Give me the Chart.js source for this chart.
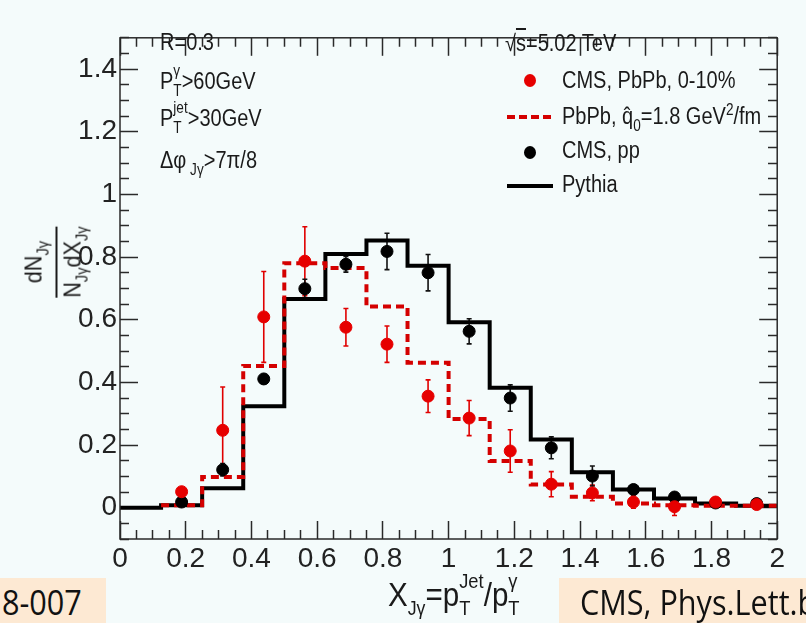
<!DOCTYPE html>
<html>
<head>
<meta charset="utf-8">
<script src="https://cdn.jsdelivr.net/npm/chart.js@4"></script>
<style>
body { margin: 0; background: #f4fbfb; }
#wrap { position: relative; width: 806px; height: 623px; overflow: hidden; background: #f4fbfb;
  font-family: 'Liberation Sans Narrow', 'Liberation Sans', sans-serif; color: #1a1a1a; }
#wrap canvas { position: absolute; left: 0; top: 0; }
.t { position: absolute; white-space: nowrap; line-height: 1; font-size: 23px; transform: scaleX(0.87); transform-origin: left; }
.st { display: inline-block; font-size: 0.68em; line-height: 0; vertical-align: baseline; }
.st > span { display: block; position: relative; }
.st > .u { top: -0.85em; }
.st > .d { top: 0.45em; }
.sb { font-size: 0.68em; position: relative; top: 0.45em; }
.box { position: absolute; background: #fde9d3; font-family: 'Open Sans', sans-serif; font-size: 34px; color: #111; }
.box span { position: absolute; top: 1px; transform: scaleX(0.9); transform-origin: left; white-space: nowrap; }
.dot { position: absolute; width: 12px; height: 13px; border-radius: 50%; }
</style>
</head>
<body>
<div id="wrap">
  <canvas id="chart" width="806" height="623"></canvas>

  <div class="t" style="left:160px; top:31px;">R=0.3</div>
  <div class="t" style="left:160px; top:70px;">P<span class="st"><span class="u">&gamma;</span><span class="d">T</span></span>&gt;60GeV</div>
  <div class="t" style="left:160px; top:107px;">P<span class="st"><span class="u">jet</span><span class="d">T</span></span>&gt;30GeV</div>
  <div class="t" style="left:160px; top:149px;">&Delta;&phi;<span class="sb"> J&gamma;</span>&gt;7&pi;/8</div>

  <div class="t" style="left:505px; top:32px;">&radic;<span style="text-decoration:overline">s</span>=5.02 TeV</div>
  <div class="dot" style="left:524px; top:74px; background:#e60000;"></div>
  <div class="t" style="left:562px; top:69px;">CMS, PbPb, 0-10%</div>
  <div style="position:absolute; left:507px; top:115px; width:46px; height:4px; background:repeating-linear-gradient(90deg,#d40000 0 8px,transparent 8px 12px);"></div>
  <div class="t" style="left:562px; top:105px;">PbPb, q&#770;<span class="sb">0</span>=1.8 GeV<sup style="font-size:0.68em; line-height:0;">2</sup>/fm</div>
  <div class="dot" style="left:524px; top:146px; background:#000;"></div>
  <div class="t" style="left:562px; top:139px;">CMS, pp</div>
  <div style="position:absolute; left:507px; top:184px; width:46px; height:4px; background:#000;"></div>
  <div class="t" style="left:562px; top:173px;">Pythia</div>

  <div id="ytitle" style="position:absolute; left:53px; top:262px; transform:translate(-50%,-50%) rotate(-90deg) scaleX(0.9); font-size:24px; text-align:center; white-space:nowrap; line-height:1;">
    <div style="padding:0 4px 10px 4px; border-bottom:2px solid #1a1a1a;">dN<span class="sb">J&gamma;</span></div>
    <div style="padding-top:3px;">N<span class="sb">J&gamma;</span>dX<span class="sb">J&gamma;</span></div>
  </div>

  <div class="t" style="left:388px; top:577px; font-size:34px;">X<span class="sb" style="font-size:0.6em;">J&gamma;</span>=p<span class="st" style="font-size:0.62em;"><span class="u">Jet</span><span class="d">T</span></span>/p<span class="st" style="font-size:0.62em;"><span class="u">&gamma;</span><span class="d">T</span></span></div>

  <div class="box" style="left:0; top:578px; width:106px; height:45px;"><span style="left:2px;">8-007</span></div>
  <div class="box" style="left:559px; top:578px; width:247px; height:45px;"><span style="left:21px;">CMS, Phys.Lett.b</span></div>
</div>

<script>
// bin edges of the histograms (X_Jgamma)
const binEdges = [0, 0.125, 0.25, 0.375, 0.5, 0.625, 0.75, 0.875, 1.0, 1.125, 1.25, 1.375, 1.5, 1.625, 1.75, 1.875, 2.0];
// Pythia (pp) histogram, one value per bin starting at 0
const pythiaValues = [0, 0.008, 0.062, 0.324, 0.666, 0.81, 0.853, 0.772, 0.592, 0.383, 0.218, 0.113, 0.058, 0.029, 0.013, 0.006];
// PbPb model, q0=1.8 GeV^2/fm, one value per bin starting at 0.125
const modelEdges = [0.125, 0.25, 0.375, 0.5, 0.625, 0.75, 0.875, 1.0, 1.125, 1.25, 1.375, 1.5, 1.625, 1.75, 1.875, 2.0];
const modelValues = [0.008, 0.098, 0.452, 0.78, 0.765, 0.642, 0.463, 0.283, 0.149, 0.074, 0.035, 0.013, 0.008, 0.006, 0.006];

// CMS data points at bin centres
const binCenters = [0.1875, 0.3125, 0.4375, 0.5625, 0.6875, 0.8125, 0.9375, 1.0625, 1.1875, 1.3125, 1.4375, 1.5625, 1.6875, 1.8125, 1.9375];
const pbpbValues = [0.051, 0.247, 0.609, 0.787, 0.576, 0.522, 0.356, 0.286, 0.181, 0.075, 0.047, 0.018, 0.003, 0.018, 0.01];
const pbpbErrors = [0.012, 0.138, 0.145, 0.11, 0.06, 0.058, 0.052, 0.056, 0.068, 0.04, 0.025, 0.02, 0.028, 0.01, 0.01];
const ppValues = [0.018, 0.121, 0.411, 0.699, 0.777, 0.818, 0.75, 0.563, 0.35, 0.191, 0.101, 0.058, 0.034, 0.015, 0.013];
const ppErrors = [0.008, 0.02, 0.015, 0.03, 0.025, 0.058, 0.058, 0.04, 0.042, 0.035, 0.032, 0.015, 0.01, 0.01, 0.01];

const xTickLabels = ['0', '0.2', '0.4', '0.6', '0.8', '1', '1.2', '1.4', '1.6', '1.8', '2'];
const yTickLabels = ['0', '0.2', '0.4', '0.6', '0.8', '1', '1.2', '1.4'];

function isMajor(v) {
    return Math.abs(v / 0.2 - Math.round(v / 0.2)) < 1e-6;
}
function tickLabel(list, v) {
    if (!isMajor(v)) return '';
    const i = Math.round(v / 0.2);
    return i >= 0 && i < list.length ? list[i] : '';
}
// one tick every 0.05, labels only on the 0.2 ones
function tickValues(min, max) {
    const out = [];
    for (let k = Math.round(min / 0.05); k <= Math.round(max / 0.05); k++) {
        out.push(+(k * 0.05).toFixed(4));
    }
    return out;
}
const xTicks = tickValues(0, 2);
const yTicks = tickValues(-0.1, 1.5);

function histPoints(edges, values) {
    return edges.map((e, i) => ({x: e, y: values[Math.min(i, values.length - 1)]}));
}

// tick marks pointing into the plot (negative tickLength), minor ones cut to half
// length with a dash. fromEdge: the tick line starts at the frame, else at its inner end
function insideTicks(fromEdge) {
    return {
        display: true,
        drawOnChartArea: false,
        drawTicks: true,
        tickLength: -18,
        tickColor: '#2a2a2a',
        tickWidth: 1.5,
        tickBorderDash: ctx => isMajor(ctx.tick.value) ? [] : (fromEdge ? [9, 100] : [0, 9, 9, 100])
    };
}

// frame round the plot + error bars under the markers
const decorations = {
    id: 'decorations',
    beforeDatasetsDraw(chart) {
        const ctx = chart.ctx;
        const x = chart.scales.x, y = chart.scales.y;
        const sets = [[pbpbValues, pbpbErrors, '#e00000'], [ppValues, ppErrors, '#111']];
        ctx.save();
        ctx.lineWidth = 1.6;
        sets.forEach(([vals, errs, col]) => {
            ctx.strokeStyle = col;
            binCenters.forEach((c, i) => {
                const px = x.getPixelForValue(c);
                const y1 = y.getPixelForValue(vals[i] - errs[i]);
                const y2 = y.getPixelForValue(vals[i] + errs[i]);
                ctx.beginPath();
                ctx.moveTo(px, y1); ctx.lineTo(px, y2);
                ctx.moveTo(px - 2.5, y1); ctx.lineTo(px + 2.5, y1);
                ctx.moveTo(px - 2.5, y2); ctx.lineTo(px + 2.5, y2);
                ctx.stroke();
            });
        });
        ctx.restore();
    },
    afterDraw(chart) {
        const ctx = chart.ctx;
        const a = chart.chartArea;
        ctx.save();
        ctx.setLineDash([]);
        ctx.strokeStyle = '#2a2a2a';
        ctx.lineWidth = 1.5;
        ctx.strokeRect(a.left, a.top, a.right - a.left, a.bottom - a.top);
        ctx.restore();
    }
};

const tickFont = {family: "'Liberation Sans Narrow', 'Liberation Sans', sans-serif", size: 28};

new Chart(document.getElementById('chart'), {
    type: 'line',
    data: {
        datasets: [
            {
                label: 'CMS, PbPb, 0-10%',
                data: binCenters.map((c, i) => ({x: c, y: pbpbValues[i]})),
                showLine: false,
                backgroundColor: '#e60000',
                borderColor: '#e60000',
                pointRadius: 6,
                order: 0
            },
            {
                label: 'CMS, pp',
                data: binCenters.map((c, i) => ({x: c, y: ppValues[i]})),
                showLine: false,
                backgroundColor: '#000',
                borderColor: '#000',
                pointRadius: 6,
                order: 1
            },
            {
                label: 'PbPb, q0=1.8 GeV2/fm',
                data: histPoints(modelEdges, modelValues),
                stepped: 'before',
                borderColor: '#d40000',
                borderWidth: 4,
                borderDash: [8, 5],
                pointRadius: 0,
                fill: false,
                order: 2
            },
            {
                label: 'Pythia',
                data: histPoints(binEdges, pythiaValues),
                stepped: 'before',
                borderColor: '#000',
                borderWidth: 4,
                pointRadius: 0,
                fill: false,
                order: 3
            }
        ]
    },
    options: {
        responsive: false,
        animation: false,
        layout: {padding: {left: 0, right: 13, top: 18, bottom: 0}},
        plugins: {legend: {display: false}, tooltip: {enabled: false}},
        scales: {
            x: {
                type: 'linear',
                position: 'bottom',
                min: 0,
                max: 2,
                grid: insideTicks(true),
                border: {display: false},
                afterBuildTicks: s => { s.ticks = xTicks.map(v => ({value: v})); },
                afterFit: s => { s.height = 84; },
                ticks: {
                    autoSkip: false,
                    maxRotation: 0,
                    padding: 21,
                    color: '#222',
                    font: tickFont,
                    callback: v => tickLabel(xTickLabels, v)
                }
            },
            xTop: {
                type: 'linear',
                position: 'top',
                min: 0,
                max: 2,
                grid: insideTicks(false),
                border: {display: false},
                afterBuildTicks: s => { s.ticks = xTicks.map(v => ({value: v})); },
                afterFit: s => { s.height = 0; },
                ticks: {display: false, autoSkip: false}
            },
            y: {
                type: 'linear',
                position: 'left',
                min: -0.1,
                max: 1.5,
                grid: insideTicks(false),
                border: {display: false},
                afterBuildTicks: s => { s.ticks = yTicks.map(v => ({value: v})); },
                afterFit: s => { s.width = 120; },
                ticks: {
                    autoSkip: false,
                    padding: 21,
                    color: '#222',
                    font: tickFont,
                    callback: v => tickLabel(yTickLabels, v)
                }
            },
            yRight: {
                type: 'linear',
                position: 'right',
                min: -0.1,
                max: 1.5,
                grid: insideTicks(true),
                border: {display: false},
                afterBuildTicks: s => { s.ticks = yTicks.map(v => ({value: v})); },
                afterFit: s => { s.width = 0; },
                ticks: {display: false, autoSkip: false}
            }
        }
    },
    plugins: [decorations]
});
</script>
</body>
</html>
